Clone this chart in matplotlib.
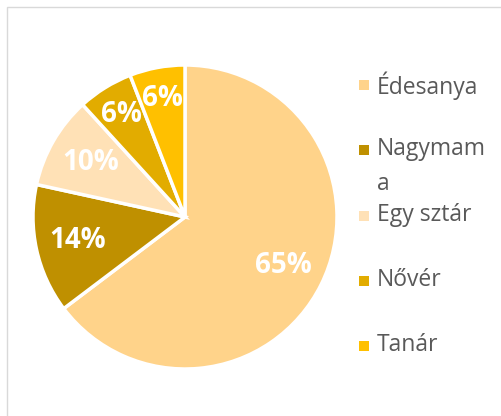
import matplotlib.pyplot as plt
from matplotlib.patches import Rectangle

# data (counts, shown as percentages)
categories = ['Édesanya', 'Nagymama', 'Egy sztár', 'Nővér', 'Tanár']
legend_labels = ['Édesanya', 'Nagymam\na', 'Egy sztár', 'Nővér', 'Tanár']
counts = [33, 7, 5, 3, 3]
colors = ['#FFD38A', '#BF9000', '#FFE1B6', '#E2AC00', '#FFC000']

plt.rcParams['font.family'] = ['Open Sans', 'DejaVu Sans']

W, H = 502, 416
fig = plt.figure(figsize=(W / 100, H / 100), dpi=100)

# chart area border (only left/top visible in the crop)
fig.patches.append(Rectangle((7 / W, -0.1), 1.2, 1 - 7 / H + 0.1,
                             transform=fig.transFigure, fill=False,
                             edgecolor='#D9D9D9', linewidth=1.0))

cx, cy, r = 185, 217, 152
ax = fig.add_axes([(cx - r) / W, (H - cy - r) / H, 2 * r / W, 2 * r / H])
wedges, texts, autotexts = ax.pie(
    counts, colors=colors, startangle=90, counterclock=False,
    autopct='%1.0f%%', pctdistance=0.72,
    wedgeprops=dict(edgecolor='white', linewidth=2.5),
    textprops=dict(color='white', fontsize=20, fontweight='bold'))
ax.set_xlim(-1, 1)
ax.set_ylim(-1, 1)

# small slices get their labels a bit further out, like the original
for w, t, c in zip(wedges, autotexts, counts):
    if c / sum(counts) < 0.08:
        x, y = t.get_position()
        t.set_position((x * 1.1, y * 1.1))

# legend, drawn by hand so the wrapped label lines up like Excel's
row_y = [85, 150, 216, 281, 346]
for lab, col, y in zip(legend_labels, colors, row_y):
    fig.patches.append(Rectangle((359 / W, 1 - (y + 5) / H), 10 / W, 10 / H,
                                 transform=fig.transFigure,
                                 facecolor=col, edgecolor='none'))
    fig.text(377 / W, 1 - (y - 13) / H, lab, fontsize=16.5, color='#595959',
             va='top', ha='left', linespacing=1.6)

fig.savefig('out.png', dpi=100)
